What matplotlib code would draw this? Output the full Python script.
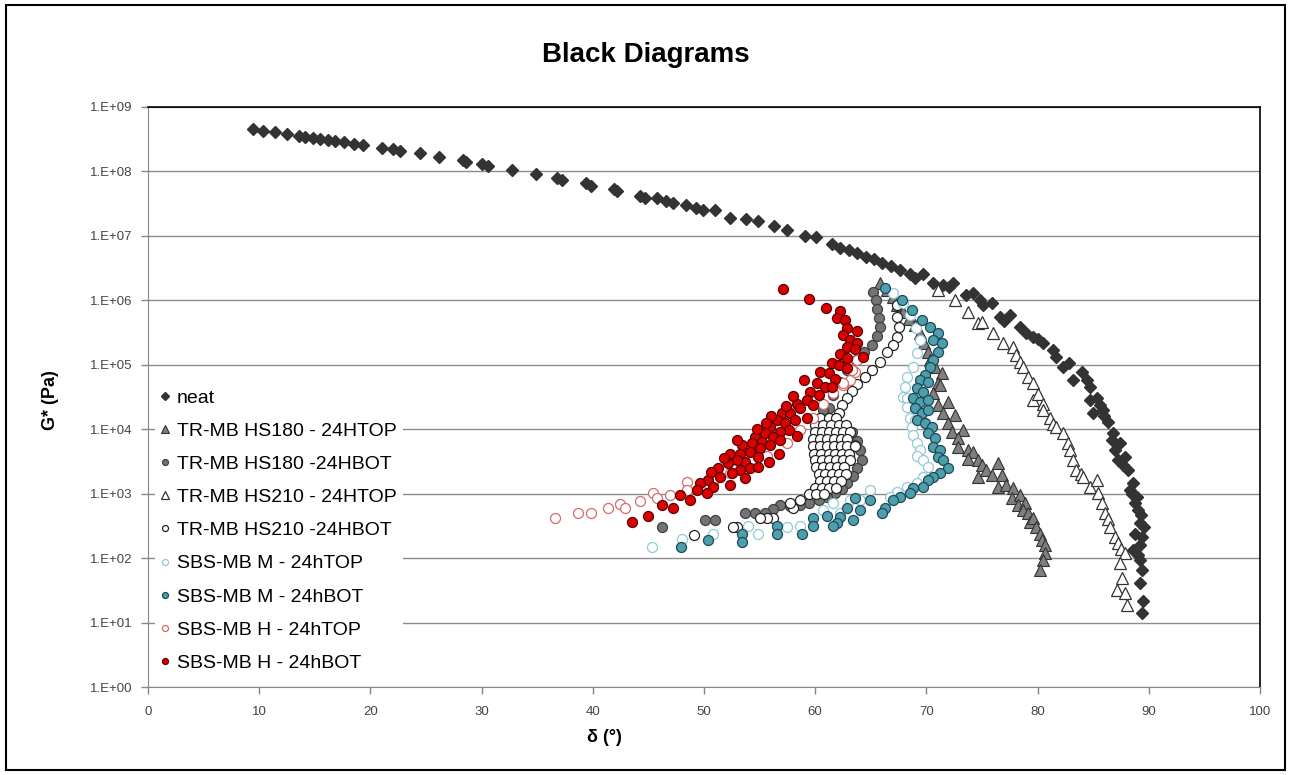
import matplotlib
matplotlib.use('agg')
import matplotlib.pyplot as plt
from matplotlib.patches import Rectangle

plt.rcParams['font.family'] = ['Liberation Sans', 'DejaVu Sans']

# --- data (delta in degrees, G* in Pa) ---
neat_d = [9.4, 10.3, 11.4, 12.5, 13.6, 14.1, 14.8, 15.5, 16.2, 16.8, 17.6, 18.5, 19.3,
          21.0, 22.0, 22.7, 24.5, 26.2, 28.3, 28.6, 30.0, 30.6, 32.7, 34.9, 36.8, 37.2,
          39.4, 39.8, 41.9, 42.2, 44.2, 44.7, 45.8, 46.6, 47.2, 48.4, 49.3, 49.9, 51.0,
          52.3, 53.8, 54.9, 56.3, 57.5, 59.1, 60.1, 61.5, 62.2, 63.0, 63.8, 64.6, 65.3,
          66.0, 66.8, 67.6, 68.5, 69.7, 70.6, 71.5, 72.4, 73.6, 74.2, 75.1, 75.9, 76.6,
          77.5, 78.4, 79.0, 79.6, 80.5, 81.4, 81.7, 82.3, 83.2, 84.0, 84.4, 84.7, 84.7,
          85.3, 85.0, 85.6, 85.9, 86.3, 86.8, 86.7, 87.0, 87.4, 87.2, 87.9, 88.1, 88.3,
          88.6, 88.9, 88.8, 89.0, 89.3, 89.2, 88.8, 89.4, 89.2, 88.6, 89.2, 89.4, 89.2,
          89.5, 89.4, 69.0, 72.0, 74.8, 77.0, 80.0, 82.8, 86.0, 87.7, 88.5, 89.6, 89.0]
neat_g = [4.6e8, 4.3e8, 4.1e8, 3.8e8, 3.5e8, 3.4e8, 3.3e8, 3.2e8, 3.1e8, 3.0e8, 2.9e8,
          2.7e8, 2.6e8, 2.3e8, 2.2e8, 2.1e8, 1.9e8, 1.7e8, 1.5e8, 1.4e8, 1.3e8, 1.2e8,
          1.05e8, 9.0e7, 7.9e7, 7.3e7, 6.5e7, 6.0e7, 5.3e7, 4.9e7, 4.2e7, 3.9e7, 3.9e7,
          3.5e7, 3.2e7, 3.0e7, 2.7e7, 2.5e7, 2.5e7, 1.9e7, 1.8e7, 1.7e7, 1.4e7, 1.25e7,
          1.0e7, 9.5e6, 7.4e6, 6.5e6, 6.0e6, 5.4e6, 4.7e6, 4.3e6, 3.8e6, 3.4e6, 3.0e6,
          2.6e6, 2.6e6, 1.85e6, 1.72e6, 1.85e6, 1.2e6, 1.29e6, 8.4e5, 9.1e5, 5.5e5,
          5.9e5, 3.8e5, 3.1e5, 2.7e5, 2.2e5, 1.7e5, 1.3e5, 9.2e4, 5.8e4, 7.7e4, 5.8e4,
          4.5e4, 2.8e4, 3.1e4, 1.8e4, 2.4e4, 2.0e4, 1.29e4, 8.7e3, 6.7e3, 4.7e3, 6.1e3,
          3.3e3, 3.7e3, 2.3e3, 1.13e3, 1.45e3, 8.8e2, 7.1e2, 5.5e2, 4.6e2, 3.5e2, 2.4e2,
          2.1e2, 1.6e2, 1.32e2, 92, 65, 41, 22, 13.9,
          2.2e6, 1.6e6, 1.0e6, 4.8e5, 2.5e5, 1.05e5, 1.6e4, 2.8e3, 1.0e3, 3.0e2, 1.1e2]

hs180_top_d = [65.8, 66.5, 67.0, 67.4, 67.9, 68.4, 69.0, 69.4, 69.8, 70.1, 70.3, 70.8,
               71.4, 71.0, 71.2, 70.6, 71.9, 71.0, 72.6, 71.5, 71.9, 73.3, 72.3, 72.8,
               72.8, 73.7, 74.2, 73.7, 74.6, 75.0, 74.6, 75.4, 76.4, 75.9, 76.8, 76.4,
               77.2, 77.8, 77.7, 78.4, 78.2, 78.9, 78.7, 79.1, 79.3, 79.6, 79.9, 80.2,
               80.4, 80.7, 80.7, 80.5, 80.2]
hs180_top_g = [1.85e6, 1.44e6, 1.12e6, 8.4e5, 6.6e5, 5.1e5, 4.1e5, 3.1e5, 2.2e5, 1.6e5,
               1.18e5, 9.2e4, 7.4e4, 5.2e4, 4.8e4, 3.6e4, 2.6e4, 2.4e4, 1.65e4, 1.8e4,
               1.24e4, 9.6e3, 9.0e3, 7.3e3, 5.3e3, 4.7e3, 4.4e3, 3.5e3, 3.3e3, 2.8e3,
               1.8e3, 2.3e3, 3.0e3, 1.93e3, 1.93e3, 1.26e3, 1.35e3, 1.21e3, 8.5e2, 9.4e2,
               6.6e2, 7.1e2, 5.5e2, 5.0e2, 3.6e2, 4.2e2, 3.0e2, 2.4e2, 1.89e2, 1.58e2,
               1.19e2, 92, 65]

hs180_bot_d = [65.2, 65.5, 65.6, 65.7, 65.8, 65.6, 65.1, 64.4, 63.7, 62.9, 62.2, 61.6,
               61.2, 60.7, 61.0, 63.3, 63.8, 64.0, 64.2, 63.8, 63.4, 62.9, 62.4, 61.8,
               61.1, 60.3, 59.4, 58.6, 57.7, 56.8, 56.2, 55.5, 54.6, 53.7, 51.0, 50.1,
               46.2, 63.6, 63.0, 62.4]
hs180_bot_g = [1.34e6, 1.01e6, 7.3e5, 5.3e5, 3.8e5, 2.8e5, 2.0e5, 1.6e5, 1.18e5, 8.2e4,
               5.4e4, 3.4e4, 2.1e4, 2.0e4, 1.38e4, 9.0e3, 6.5e3, 4.7e3, 3.3e3, 2.5e3,
               1.86e3, 1.45e3, 1.17e3, 1.01e3, 8.8e2, 7.9e2, 7.1e2, 6.6e2, 6.4e2, 6.6e2,
               5.7e2, 5.1e2, 5.1e2, 5.1e2, 3.9e2, 3.9e2, 3.0e2, 5.6e3, 3.9e3, 2.3e3]

hs210_top_d = [71.0, 72.6, 73.7, 74.6, 75.0, 76.0, 76.9, 77.8, 78.1, 78.4, 78.7, 79.1,
               79.6, 79.6, 80.0, 80.5, 80.5, 81.1, 81.4, 81.7, 82.3, 82.7, 82.9, 83.2,
               83.5, 83.9, 84.1, 84.7, 85.3, 85.4, 85.8, 86.1, 86.3, 86.5, 87.0, 87.2,
               87.5, 87.9, 87.4, 87.6, 87.1, 87.9, 88.0]
hs210_top_g = [1.44e6, 1.0e6, 6.6e5, 4.5e5, 4.6e5, 3.1e5, 2.2e5, 1.9e5, 1.4e5, 1.1e5,
               9.2e4, 6.4e4, 5.2e4, 2.8e4, 3.5e4, 2.5e4, 2.0e4, 1.5e4, 1.2e4, 1.07e4,
               8.7e3, 6.1e3, 4.7e3, 3.3e3, 2.3e3, 2.0e3, 1.8e3, 1.26e3, 1.62e3, 1.01e3,
               7.1e2, 5.0e2, 4.0e2, 3.0e2, 2.1e2, 1.7e2, 1.4e2, 1.19e2, 83, 50, 32, 29,
               18.5]

hs210_bot_d = [67.4, 67.4, 67.5, 67.4, 67.0, 66.5, 65.8, 65.1, 64.5, 63.8, 63.3, 62.9,
               62.4, 62.1,
               60.4, 61.2, 61.9,
               60.0, 60.7, 61.4, 62.1, 62.8,
               60.0, 60.6, 61.2, 61.9, 62.5, 63.1,
               59.8, 60.4, 61.1, 61.7, 62.3, 62.9,
               59.8, 60.4, 61.1, 61.7, 62.3, 62.9, 63.6,
               59.9, 60.5, 61.2, 61.8, 62.4, 63.0,
               60.0, 60.6, 61.2, 61.9, 62.5, 63.1,
               60.1, 60.7, 61.3, 62.0, 62.6,
               60.3, 60.9, 61.5, 62.1, 62.8,
               60.4, 61.1, 61.7, 62.3,
               60.0, 60.6, 61.2, 61.9,
               59.4, 60.1, 60.8,
               58.6, 58.0, 57.7, 56.2, 55.7, 55.0, 53.0, 52.6, 49.1]
hs210_bot_g = [8.4e5, 5.5e5, 3.8e5, 2.7e5, 2.0e5, 1.6e5, 1.1e5, 8.2e4, 6.4e4, 5.0e4,
               3.9e4, 3.0e4, 2.4e4, 1.8e4,
               1.48e4, 1.48e4, 1.48e4,
               1.15e4, 1.15e4, 1.15e4, 1.15e4, 1.15e4,
               9.0e3, 9.0e3, 9.0e3, 9.0e3, 9.0e3, 9.0e3,
               7.0e3, 7.0e3, 7.0e3, 7.0e3, 7.0e3, 7.0e3,
               5.4e3, 5.4e3, 5.4e3, 5.4e3, 5.4e3, 5.4e3, 5.4e3,
               4.2e3, 4.2e3, 4.2e3, 4.2e3, 4.2e3, 4.2e3,
               3.3e3, 3.3e3, 3.3e3, 3.3e3, 3.3e3, 3.3e3,
               2.6e3, 2.6e3, 2.6e3, 2.6e3, 2.6e3,
               2.0e3, 2.0e3, 2.0e3, 2.0e3, 2.0e3,
               1.56e3, 1.56e3, 1.56e3, 1.56e3,
               1.21e3, 1.21e3, 1.21e3, 1.21e3,
               9.8e2, 9.8e2, 9.8e2,
               7.9e2, 5.9e2, 7.1e2, 4.2e2, 4.2e2, 4.2e2, 3.0e2, 3.0e2, 2.3e2]

sbsm_top_d = [67.0, 67.9, 68.5, 69.1, 69.4, 69.2, 68.8, 68.3, 68.1, 67.9, 68.3, 68.3,
              68.5, 69.0, 68.7, 68.8, 69.2, 69.4, 69.2, 69.7, 70.1, 69.7, 69.2, 68.3,
              67.4, 66.7, 64.9, 64.0, 63.1, 62.2, 61.6, 60.7, 58.6, 57.5, 54.9, 54.0,
              50.8, 48.0, 45.3]
sbsm_top_g = [1.29e6, 9.1e5, 5.9e5, 3.7e5, 2.4e5, 1.5e5, 9.2e4, 6.4e4, 4.5e4, 3.2e4,
              3.1e4, 2.2e4, 1.5e4, 1.38e4, 1.07e4, 8.1e3, 6.1e3, 4.7e3, 3.9e3, 3.3e3,
              2.6e3, 1.8e3, 1.45e3, 1.26e3, 1.05e3, 8.8e2, 1.13e3, 7.9e2, 7.9e2, 5.0e2,
              7.1e2, 5.5e2, 3.2e2, 3.0e2, 2.4e2, 3.2e2, 2.4e2, 1.96e2, 1.47e2]

sbsm_bot_d = [66.3, 67.8, 68.7, 69.6, 70.3, 71.0, 70.6, 71.4, 71.0, 70.6, 70.3, 69.9,
              69.4, 70.1, 69.2, 69.7, 68.8, 69.4, 70.1, 69.0, 69.6, 70.1, 69.2, 69.9,
              70.5, 70.1, 70.8, 70.6, 71.2, 71.0, 71.5, 71.9, 71.2, 70.6, 70.1, 69.7,
              68.8, 68.5, 67.6, 67.0, 66.3, 66.0, 64.9, 64.0, 63.6, 62.9, 63.4, 62.2,
              62.0, 61.6, 61.1, 59.8, 59.8, 58.8, 56.6, 56.6, 53.4, 53.4, 50.4, 47.9]
sbsm_bot_g = [1.55e6, 1.01e6, 7.0e5, 4.9e5, 3.8e5, 3.1e5, 2.4e5, 2.2e5, 1.6e5, 1.18e5,
              9.2e4, 6.9e4, 5.8e4, 5.4e4, 4.3e4, 3.8e4, 3.0e4, 2.6e4, 2.8e4, 2.1e4,
              1.8e4, 2.0e4, 1.38e4, 1.24e4, 1.07e4, 8.7e3, 7.3e3, 5.3e3, 4.7e3, 3.7e3,
              3.3e3, 2.5e3, 2.1e3, 1.8e3, 1.62e3, 1.26e3, 1.21e3, 1.01e3, 8.8e2, 7.9e2,
              6.1e2, 5.1e2, 7.9e2, 5.5e2, 8.5e2, 5.9e2, 3.9e2, 4.3e2, 3.5e2, 3.2e2,
              4.5e2, 4.2e2, 3.2e2, 2.4e2, 3.2e2, 2.4e2, 2.4e2, 1.76e2, 1.89e2, 1.47e2]

sbsh_top_d = [36.6, 38.7, 39.8, 41.4, 42.4, 42.9, 44.2, 45.4, 45.8, 46.9, 48.5, 48.5,
              49.6, 50.8, 50.7, 52.3, 53.9, 55.7, 57.5, 58.6, 59.8, 60.7, 61.6, 62.5,
              63.1, 63.6, 63.8, 62.5, 63.3, 50.8]
sbsh_top_g = [4.2e2, 5.0e2, 5.0e2, 6.1e2, 6.8e2, 6.1e2, 7.6e2, 1.01e3, 8.5e2, 9.4e2,
              1.5e3, 1.13e3, 1.26e3, 1.45e3, 1.8e3, 2.1e3, 2.5e3, 3.9e3, 6.1e3, 9.6e3,
              1.5e4, 2.5e4, 3.6e4, 4.8e4, 5.8e4, 7.7e4, 1.18e5, 5.2e4, 8.2e4, 1.62e3]

sbsh_bot_d = [57.1, 59.4, 61.0, 62.2, 62.0, 62.7, 62.9, 63.8, 62.5, 63.1, 63.8, 62.9,
              63.6, 64.3, 62.2, 62.9, 61.5, 62.1, 62.9, 60.4, 61.2, 61.8, 59.0, 60.2,
              60.9, 61.5, 59.5, 60.3, 58.4, 59.3, 59.8, 58.6, 57.0, 57.7, 58.2, 59.3,
              56.6, 57.3, 55.9, 57.6, 56.8, 58.4, 55.5, 56.2, 54.6, 55.2, 56.8, 55.9,
              54.3, 53.4, 55.0, 56.7, 54.1, 53.2, 52.3, 54.9, 55.8, 53.7, 53.0, 54.1,
              54.9, 52.2, 51.3, 53.2, 52.5, 53.7, 51.4, 50.4, 52.3, 50.8, 49.6, 50.3,
              49.4, 48.7, 47.8, 47.2, 46.2, 45.0, 43.5,
              58.0, 56.0, 54.8, 53.0, 51.8, 50.6, 57.4, 55.6]
sbsh_bot_g = [1.49e6, 1.04e6, 7.6e5, 6.8e5, 5.3e5, 4.9e5, 3.7e5, 3.3e5, 2.9e5, 2.4e5,
              2.2e5, 1.9e5, 1.75e5, 1.3e5, 1.46e5, 1.27e5, 1.06e5, 9.9e4, 8.9e4, 7.7e4,
              7.4e4, 6.0e4, 5.8e4, 5.2e4, 4.5e4, 4.5e4, 3.8e4, 3.4e4, 2.5e4, 2.8e4,
              2.4e4, 2.1e4, 1.8e4, 1.8e4, 1.38e4, 1.5e4, 1.38e4, 1.24e4, 1.07e4, 9.6e3,
              9.0e3, 7.8e3, 8.7e3, 7.5e3, 7.5e3, 6.3e3, 6.7e3, 5.6e3, 6.1e3, 5.6e3,
              5.1e3, 4.2e3, 4.4e3, 4.2e3, 4.2e3, 3.7e3, 3.1e3, 3.1e3, 3.3e3, 2.5e3,
              2.6e3, 3.0e3, 2.5e3, 2.3e3, 2.1e3, 1.75e3, 1.8e3, 1.62e3, 1.35e3, 1.26e3,
              1.45e3, 1.01e3, 1.13e3, 7.9e2, 9.4e2, 6.1e2, 6.6e2, 4.5e2, 3.6e2,
              3.3e4, 1.6e4, 1.0e4, 6.8e3, 3.6e3, 2.2e3, 2.3e4, 1.25e4]

x_ticks = [0, 10, 20, 30, 40, 50, 60, 70, 80, 90, 100]
y_ticks = [1e0, 1e1, 1e2, 1e3, 1e4, 1e5, 1e6, 1e7, 1e8, 1e9]
y_tick_labels = ['1.E+00', '1.E+01', '1.E+02', '1.E+03', '1.E+04',
                 '1.E+05', '1.E+06', '1.E+07', '1.E+08', '1.E+09']

fig = plt.figure(figsize=(12.92, 7.75), dpi=100)
ax = fig.add_axes([0.1146, 0.1135, 0.8606, 0.7485])

circ = dict(marker='o', ms=7.2, mew=0.9, ls='none')
ax.plot(neat_d, neat_g, marker='D', ms=6.5, color='#333333', mec='#333333', ls='none', label='neat')
ax.plot(hs180_top_d, hs180_top_g, marker='^', ms=8.8, mfc='#7f7f7f', mec='#333333', mew=0.8,
        ls='none', label='TR-MB HS180 - 24HTOP')
ax.plot(hs180_bot_d, hs180_bot_g, mfc='#737373', mec='#404040', label='TR-MB HS180 -24HBOT', **circ)
ax.plot(hs210_top_d, hs210_top_g, marker='^', ms=8.8, mfc='white', mec='#333333', mew=0.9,
        ls='none', label='TR-MB HS210 - 24HTOP')
ax.plot(hs210_bot_d, hs210_bot_g, mfc='white', mec='#222222', label='TR-MB HS210 -24HBOT', **circ)
ax.plot(sbsm_top_d, sbsm_top_g, mfc='white', mec='#93c9d6', label='SBS-MB M - 24hTOP', **circ)
ax.plot(sbsm_bot_d, sbsm_bot_g, mfc='#4e9fae', mec='#1e4a55', label='SBS-MB M - 24hBOT', **circ)
ax.plot(sbsh_top_d, sbsh_top_g, mfc='white', mec='#d86a6a', label='SBS-MB H - 24hTOP', **circ)
ax.plot(sbsh_bot_d, sbsh_bot_g, mfc='#dd0000', mec='#5a0000', label='SBS-MB H - 24hBOT', **circ)

ax.set_yscale('log')
ax.set_xlim(0, 100)
ax.set_ylim(1e0, 1e9)
ax.set_xticks(x_ticks)
ax.set_yticks(y_ticks)
ax.set_yticklabels(y_tick_labels)
ax.minorticks_off()
ax.yaxis.grid(True, color='#8c8c8c', lw=1)
ax.set_axisbelow(True)
ax.tick_params(axis='both', direction='out', length=5, width=1, color='#868686',
               labelsize=9.5, labelcolor='#444444')
ax.tick_params(axis='x', pad=9)
ax.tick_params(axis='y', pad=6)
for s in ['left', 'bottom']:
    ax.spines[s].set_color('#868686')
for s in ['top', 'right']:
    ax.spines[s].set_color('black')
    ax.spines[s].set_linewidth(1.2)

leg = ax.legend(loc='upper left', bbox_to_anchor=(0.006, 0.524), borderaxespad=0,
                frameon=True, facecolor='white', edgecolor='none', framealpha=1,
                fancybox=False, fontsize=14, markerscale=0.6, handlelength=0.5,
                handletextpad=0.35, labelspacing=0.8, borderpad=0.3)
leg.get_frame().set_linewidth(0)

fig.text(0.5, 0.929, 'Black Diagrams', ha='center', va='center', fontsize=20, fontweight='bold')
fig.text(0.468, 0.048, 'δ (°)', ha='center', va='center', fontsize=13, fontweight='bold')
fig.text(0.039, 0.484, 'G* (Pa)', ha='center', va='center', rotation=90, fontsize=13,
         fontweight='bold')

fig.patches.append(Rectangle((0.005, 0.006), 0.9895, 0.9875, transform=fig.transFigure,
                             fill=False, edgecolor='black', lw=1.5))

fig.savefig('out.png', dpi=100)
